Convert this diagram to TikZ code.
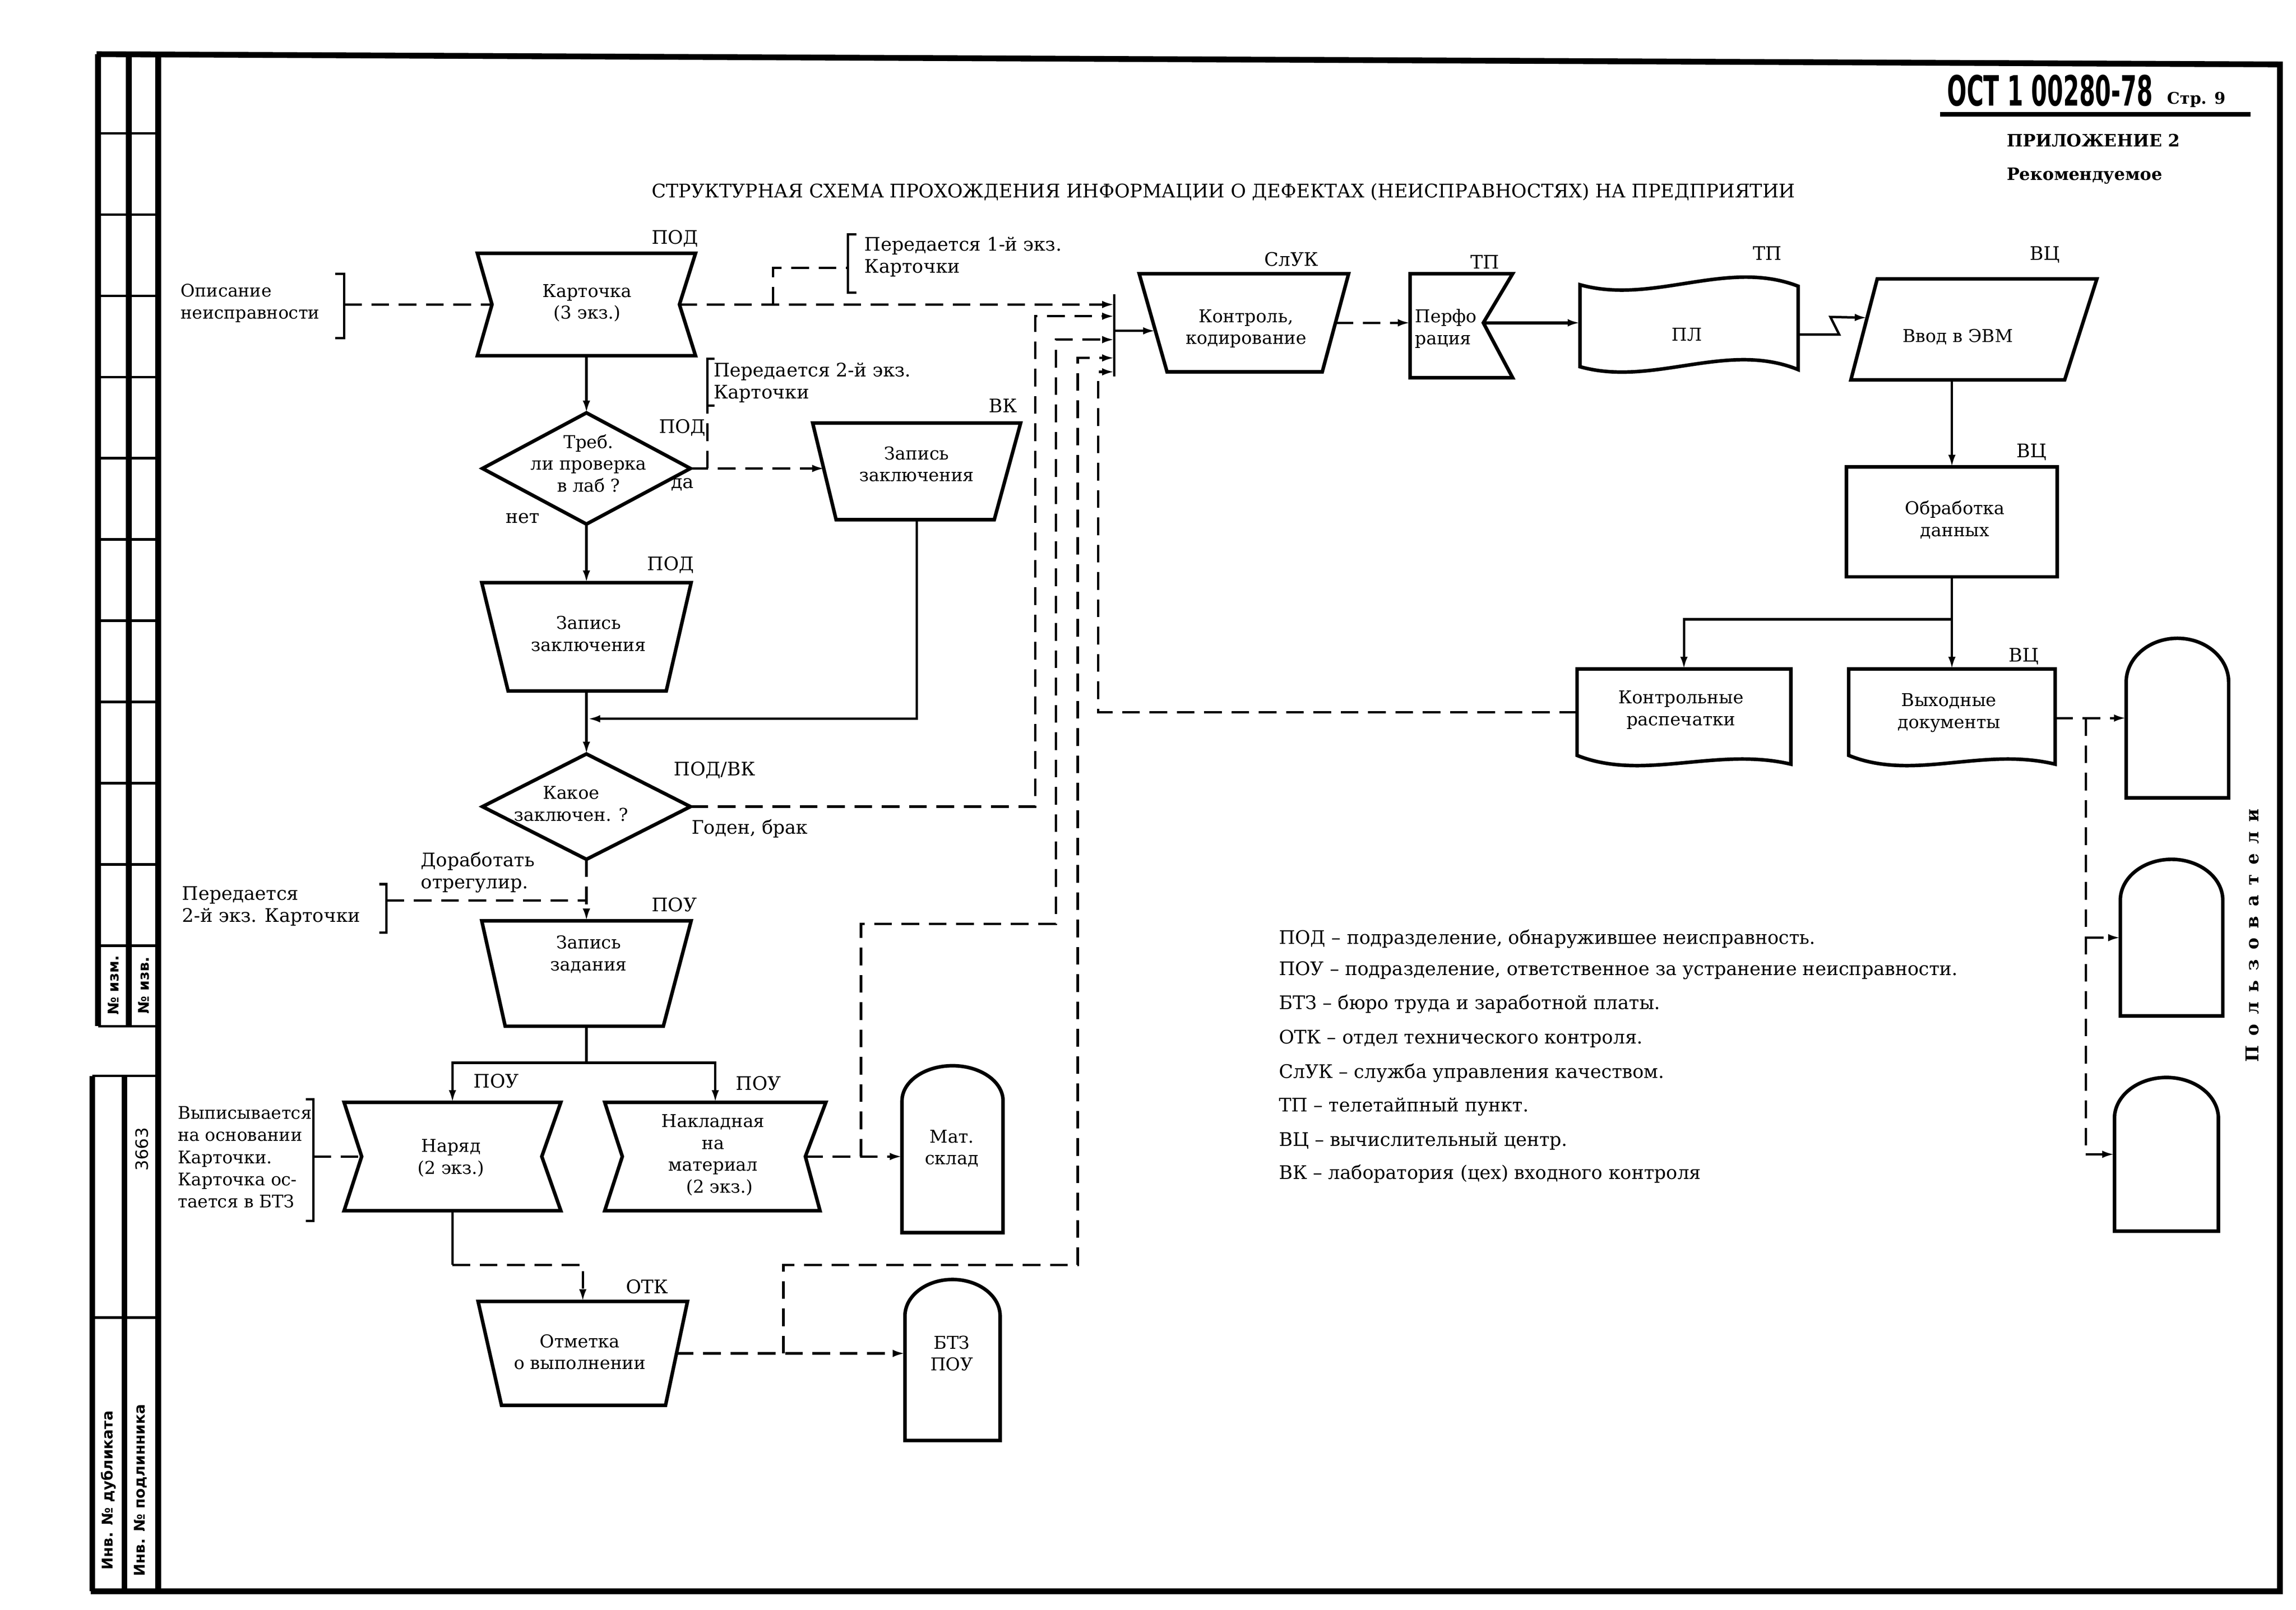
\documentclass[tikz,border=0pt]{standalone}
\usepackage{fontspec}
\setmainfont{DejaVu Serif}
\setsansfont{DejaVu Sans}
\usetikzlibrary{arrows.meta}
\usetikzlibrary{calc}
\usetikzlibrary{positioning}

\newcommand\txtf{\fontsize{5.5}{6.8}\selectfont}
\newcommand\annf{\fontsize{5.8}{6.9}\selectfont}
\newcommand\annsf{\fontsize{5.4}{6.9}\selectfont}
\newcommand\ttlf{\fontsize{5.82}{7}\selectfont}
\newcommand\hdrf{\bfseries\fontsize{5.3}{6}\selectfont}
\newcommand\sidef{\sffamily\bfseries\fontsize{4.6}{5}\selectfont}

\begin{document}
\begin{tikzpicture}[x=0.016cm, y=-0.016cm,
    shp/.style 2 args={inner sep=0pt, outer sep=0pt, minimum width=#1*0.016cm, minimum height=#2*0.016cm},
    txt/.style={inner sep=0pt, align=center, font=\txtf},
    lbl/.style={inner sep=0pt, font=\annf},
    note/.style={inner sep=0pt, align=left, anchor=west, font=\annf},
    box/.style={line width=1.1pt, line join=miter},
    con/.style={line width=0.75pt},
    dsh/.style={con, dash pattern=on 5.5pt off 3pt},
    frm/.style={line width=1.8pt},
    >={Latex[length=3.8pt,width=2.3pt]}]

    \useasboundingbox (0,0) rectangle (1568,1099.7);

    % frame and margin strip
    \draw[frm] (66,37) -- (1557,44) -- (1557,1087) -- (62,1087);
    \draw[frm] (108,37) -- (108,1087);
    \draw[frm] (67,37) -- (67,701);
    \draw[frm] (88,37) -- (88,701);
    \draw[frm] (63,735) -- (63,1087);
    \draw[frm] (85,735) -- (85,1087);
    \draw[con] (67,91) -- (108,91) (67,146.5) -- (108,146.5) (67,202) -- (108,202)
        (67,257.5) -- (108,257.5) (67,313) -- (108,313) (67,368.5) -- (108,368.5)
        (67,424) -- (108,424) (67,479.5) -- (108,479.5) (67,535) -- (108,535)
        (67,590.5) -- (108,590.5) (67,646) -- (108,646) (67,701) -- (108,701);
    \draw[con] (63,735) -- (108,735) (63,900) -- (108,900);
    \node[rotate=90, inner sep=0pt, font=\sidef] (izm) at (77.5,673) {№ изм.};
    \node[rotate=90, inner sep=0pt, font=\sidef] (izv) at (98,673) {№ изв.};
    \node[rotate=90, inner sep=0pt, font=\sffamily\fontsize{5.3}{6}\selectfont] (inv) at (97,785) {3663};
    \node[rotate=90, inner sep=0pt, font=\sidef] (dubl) at (74,1018) {Инв. № дубликата};
    \node[rotate=90, inner sep=0pt, font=\sidef] (podl) at (96,1018) {Инв. № подлинника};

    % header
    \node[inner sep=0pt, font=\sffamily\bfseries\fontsize{13}{13}\selectfont] (ost) at (1400,62) {\scalebox{0.55}[1]{ОСТ 1 00280-78}};
    \node[inner sep=0pt, font=\bfseries\fontsize{5}{5}\selectfont] (page) at (1500,68) {Стр. 9};
    \draw[line width=1.4pt] (1325,78) -- (1537,78);
    \node[inner sep=0pt, anchor=west, font=\hdrf] (pril) at (1370,96) {ПРИЛОЖЕНИЕ 2};
    \node[inner sep=0pt, anchor=west, font=\hdrf] (rek) at (1370,120) {Рекомендуемое};
    \node[inner sep=0pt, font=\ttlf] (title) at (835.5,131) {СТРУКТУРНАЯ СХЕМА ПРОХОЖДЕНИЯ ИНФОРМАЦИИ О ДЕФЕКТАХ (НЕИСПРАВНОСТЯХ) НА ПРЕДПРИЯТИИ};

    % blocks
    \node[shp={149}{70}] (kart) at (400.5,208) {};
    \node[shp={142}{76}] (treb) at (400.5,320) {};
    \node[shp={142}{66}] (zapvk) at (626,322) {};
    \node[shp={143}{74}] (zappod) at (400.5,435) {};
    \node[shp={142}{72}] (kak) at (400.5,551) {};
    \node[shp={143}{72}] (zadan) at (400.5,665) {};
    \node[shp={148}{74}] (naryad) at (309,790) {};
    \node[shp={151}{74}] (naklad) at (488.5,790) {};
    \node[shp={143}{71}] (otm) at (398,924.5) {};
    \node[shp={69}{114}] (sklad) at (650.5,785) {};
    \node[shp={65}{110}] (btz) at (650.5,929) {};
    \node[shp={143}{67}] (kontr) at (849.5,220.5) {};
    \node[shp={70}{71}] (perf) at (998,222.5) {};
    \node[shp={149}{56}] (pl) at (1153.5,222.5) {};
    \node[shp={168}{69}] (vvod) at (1348,225) {};
    \node[shp={144}{75}] (obr) at (1333,356.5) {};
    \node[shp={146}{59}] (kras) at (1150,486.5) {};
    \node[shp={141}{59}] (vyh) at (1333,486.5) {};
    \node[shp={70}{109}] (u1) at (1487,490.5) {};
    \node[shp={70}{107}] (u2) at (1483,640.5) {};
    \node[shp={71}{105}] (u3) at (1479.5,788.5) {};

    \draw[box] (kart.north west) -- (kart.north east) -- ($(kart.east)+(-11,0)$) -- (kart.south east) -- (kart.south west) -- ($(kart.west)+(10,0)$) -- cycle;
    \draw[box] (treb.north) -- (treb.east) -- (treb.south) -- (treb.west) -- cycle;
    \draw[box] (zapvk.north west) -- (zapvk.north east) -- ($(zapvk.south east)+(-18,0)$) -- ($(zapvk.south west)+(16,0)$) -- cycle;
    \draw[box] (zappod.north west) -- (zappod.north east) -- ($(zappod.south east)+(-17,0)$) -- ($(zappod.south west)+(18,0)$) -- cycle;
    \draw[box] (kak.north) -- (kak.east) -- (kak.south) -- (kak.west) -- cycle;
    \draw[box] (zadan.north west) -- (zadan.north east) -- ($(zadan.south east)+(-19,0)$) -- ($(zadan.south west)+(16,0)$) -- cycle;
    \draw[box] (naryad.north west) -- (naryad.north east) -- ($(naryad.east)+(-13,0)$) -- (naryad.south east) -- (naryad.south west) -- ($(naryad.west)+(12,0)$) -- cycle;
    \draw[box] (naklad.north west) -- (naklad.north east) -- ($(naklad.east)+(-14,0)$) -- ($(naklad.south east)+(-4,0)$) -- (naklad.south west) -- ($(naklad.west)+(12,0)$) -- cycle;
    \draw[box] (otm.north west) -- (otm.north east) -- ($(otm.south east)+(-15,0)$) -- ($(otm.south west)+(16,0)$) -- cycle;
    \draw[box] (kontr.north west) -- (kontr.north east) -- ($(kontr.south east)+(-18,0)$) -- ($(kontr.south west)+(19,0)$) -- cycle;
    \draw[box] (perf.north west) -- (perf.north east) -- ($(perf.east)+(-20,-2)$) -- (perf.south east) -- (perf.south west) -- cycle;
    \draw[box] (pl.north west) .. controls +(50,14) and +(-49,-19) .. ($(pl.north east)+(0,1)$)
        -- ($(pl.south east)+(0,2)$) .. controls +(-49,-20) and +(50,14) .. (pl.south west) -- cycle;
    \draw[box] ($(vvod.north west)+(18,0)$) -- (vvod.north east) -- ($(vvod.south east)+(-22,0)$) -- (vvod.south west) -- cycle;
    \draw[box] (obr.north west) rectangle (obr.south east);
    \draw[box] (kras.north west) -- (kras.north east) -- ($(kras.south east)+(0,6)$) .. controls +(-51,-12) and +(45,18) .. (kras.south west) -- cycle;
    \draw[box] (vyh.north west) -- (vyh.north east) -- ($(vyh.south east)+(0,6)$) .. controls +(-50,-12) and +(44,18) .. (vyh.south west) -- cycle;
    \draw[box] (sklad.south west) -- ($(sklad.north west)+(0,24)$) arc[start angle=180, end angle=0, x radius=34.5*0.016cm, y radius=24*0.016cm] -- (sklad.south east) -- cycle;
    \draw[box] (btz.south west) -- ($(btz.north west)+(0,25)$) arc[start angle=180, end angle=0, x radius=32.5*0.016cm, y radius=25*0.016cm] -- (btz.south east) -- cycle;
    \draw[box] (u1.south west) -- ($(u1.north west)+(0,30)$) arc[start angle=180, end angle=0, x radius=35*0.016cm, y radius=30*0.016cm] -- (u1.south east) -- cycle;
    \draw[box] (u2.south west) -- ($(u2.north west)+(0,28)$) arc[start angle=180, end angle=0, x radius=35*0.016cm, y radius=28*0.016cm] -- (u2.south east) -- cycle;
    \draw[box] (u3.south west) -- ($(u3.north west)+(0,28)$) arc[start angle=180, end angle=0, x radius=35.5*0.016cm, y radius=28*0.016cm] -- (u3.south east) -- cycle;

    % block texts
    \node[txt] (kart-t) at (401,207) {Карточка\\(3 экз.)};
    \node[txt] (treb-t) at (402,316.5) {Треб.\\ли проверка\\в лаб ?};
    \node[txt] (zapvk-t) at (626,317) {Запись\\заключения};
    \node[txt] (zappod-t) at (402,433) {Запись\\заключения};
    \node[txt] (kak-t) at (390,549) {Какое\\заключен. ?};
    \node[txt] (zadan-t) at (402,652) {Запись\\задания};
    \node[txt] (naryad-t) at (308,791) {Наряд\\(2 экз.)};
    \node[txt] (naklad-t) at (487,789) {Накладная\\на\\материал\\\hspace*{4pt}(2 экз.)};
    \node[txt] (otm-t) at (396,923.5) {Отметка\\о выполнении};
    \node[txt] (sklad-t) at (650,784.5) {Мат.\\склад};
    \node[txt] (btz-t) at (650,924.5) {БТЗ\\ПОУ};
    \node[txt] (kontr-t) at (851,224.5) {Контроль,\\кодирование};
    \node[txt, anchor=west, align=left] (perf-t) at (966,224.5) {Перфо\\рация};
    \node[txt] (pl-t) at (1152,228.6) {ПЛ};
    \node[txt] (vvod-t) at (1337,230) {Ввод в ЭВМ};
    \node[txt] (obr-t) at (1335,355) {Обработка\\данных};
    \node[txt] (kras-t) at (1148,485) {Контрольные\\распечатки};
    \node[txt] (vyh-t) at (1331,487) {Выходные\\документы};

    % unit labels
    \node[lbl] (lpod1) at (461,163) {ПОД};
    \node[lbl] (lpod2) at (466,292) {ПОД};
    \node[lbl] (lda) at (466,331) {да};
    \node[lbl] (lnet) at (357,354) {нет};
    \node[lbl] (lvk) at (685,277) {ВК};
    \node[lbl] (lpod3) at (458,386) {ПОД};
    \node[lbl] (lpodvk) at (488,526) {ПОД/ВК};
    \node[lbl] (lgod) at (512,566) {Годен, брак};
    \node[lbl] (lpou1) at (460.5,618) {ПОУ};
    \node[lbl] (lpou2) at (339,738.5) {ПОУ};
    \node[lbl] (lpou3) at (518,740) {ПОУ};
    \node[lbl] (lotk) at (442,879) {ОТК};
    \node[lbl] (lsluk) at (882,177) {СлУК};
    \node[lbl] (ltp1) at (1014,179) {ТП};
    \node[lbl] (ltp2) at (1207,173) {ТП};
    \node[lbl] (lvc1) at (1396.5,174) {ВЦ};
    \node[lbl] (lvc2) at (1387.5,309) {ВЦ};
    \node[lbl] (lvc3) at (1382,448.5) {ВЦ};
    \node[rotate=90, inner sep=0pt, font=\bfseries\fontsize{5.5}{6}\selectfont] (users) at (1538,639)
        {П\kern3pt о\kern3pt л\kern3pt ь\kern3pt з\kern3pt о\kern3pt в\kern3pt а\kern3pt т\kern3pt е\kern3pt л\kern3pt и};

    % notes
    \node[note, font=\annsf] (opis) at (123,207) {Описание\\неисправности};
    \node[note] (per1) at (590,175.5) {Передается 1-й экз.\\Карточки};
    \node[note] (per2) at (487,261.5) {Передается 2-й экз.\\Карточки};
    \node[note] (dorab) at (287,596) {Доработать\\отрегулир.};
    \node[note] (per3) at (124,619) {Передается\\2-й экз. Карточки};
    \node[note, font=\annsf] (vyp) at (121,790.5) {Выписывается\\на основании\\Карточки.\\Карточка ос-\\тается в БТЗ};

    % brackets and junctions
    \coordinate (br0) at (235,208);
    \coordinate (br1) at (579,183);
    \coordinate (br2) at (483,277);
    \coordinate (br3) at (264,615);
    \coordinate (br4) at (214,790);
    \draw[con] ($(br0)+(-6,-21)$) -- ++(6,0) -- ++(0,44) -- ++(-6,0);
    \draw[con] ($(br1)+(6,-23)$) -- ++(-6,0) -- ++(0,40) -- ++(6,0);
    \draw[con] ($(br2)+(5,-32)$) -- ++(-5,0) -- (br2) -- ++(5,0);
    \draw[con] ($(br3)+(-5,-11)$) -- ++(5,0) -- ++(0,33) -- ++(-5,0);
    \draw[con] ($(br4)+(-5,-39)$) -- ++(5,0) -- ++(0,83) -- ++(-5,0);

    \coordinate (bar-top) at (761,201);
    \coordinate (bar-bot) at (761,257);
    \coordinate (bar0) at (761,226);
    \coordinate (bar1) at (761,208);
    \coordinate (bar2) at (761,216);
    \coordinate (bar3) at (761,232);
    \coordinate (bar4) at (761,244.5);
    \coordinate (bar5) at (761,254);
    \coordinate (jn1) at (401.5,491);
    \coordinate (jn2) at ($(naklad.east)+(24,0)$);
    \coordinate (jn3) at ($(otm.east)+(65.5,0)$);
    \coordinate (jn4) at ($(obr.south)+(0,29)$);
    \coordinate (vyo) at ($(vyh.east)+(0,4)$);
    \coordinate (jn5) at ($(vyo)+(21,0)$);
    \coordinate (jn6) at ($(zadan.south)+(0,25)$);
    \coordinate (jn7) at ($(naryad.south)+(0,37)$);

    % connectors
    \draw[dsh] (br0) -- ($(kart.west)+(10,0)$);
    \draw[con,->] (kart.south) -- (treb.north);
    \draw[dsh,->] ($(kart.east)+(-11,0)$) -- (bar1);
    \draw[dsh] (528,208) |- (br1);
    \draw[dsh,->] (treb.east) -- ($(treb.east -| zapvk.west)+(8,0)$);
    \draw[dsh] ($(treb.east)+(11.5,0)$) -- (br2);
    \draw[con,->] (treb.south) -- (zappod.north);
    \draw[con,->] (zapvk.south) |- (jn1);
    \draw[con,->] (zappod.south) -- (kak.north);
    \draw[dsh,->] (kak.south) -- (zadan.north);
    \draw[dsh] (br3) -- (br3 -| kak.south);
    \draw[dsh,->] (kak.east) -| (707,216) -- (bar2);
    \draw[con] (bar-top) -- (bar-bot);
    \draw[con,->] (bar0) -- ($(bar0 -| kontr.west)+(11,0)$);
    \draw[dsh,->] ($(kontr.east)+(-9,0)$) -- (kontr.east -| perf.west);
    \draw[con,->, line width=1pt] ($(perf.east)+(-20,-2)$) -- ($(pl.west)+(0,-2)$);
    \draw[con,->] ($(pl.east)+(0,6)$) -- ++(28,0) -- ++(-6,-12) -- ($(vvod.west)+(11,-8)$);
    \draw[con,->] (obr.north |- vvod.south) -- (obr.north);
    \draw[con] (obr.south) -- (jn4);
    \draw[con,->] (jn4) -| (kras.north);
    \draw[con,->] (jn4) -- (vyh.north);
    \draw[dsh,->] (kras.west) -| (750,254) -- (bar5);
    \draw[dsh,->] (vyo) -- (vyo -| u1.west);
    \draw[dsh] (jn5) -- (jn5 |- u3.west);
    \draw[dsh,->] (jn5 |- u2.west) -- (u2.west);
    \draw[dsh,->] (jn5 |- u3.west) -- (u3.west);
    \draw[con] (zadan.south) -- (jn6);
    \draw[con,->] (jn6) -| (naryad.north);
    \draw[con,->] (jn6) -| (naklad.north);
    \draw[dsh] (br4) -- ($(naryad.west)+(12,0)$);
    \draw[dsh,->] ($(naklad.east)+(-14,0)$) -- (naklad.east -| sklad.west);
    \draw[dsh,->] (jn2) |- (721,631) |- (bar3);
    \draw[con] (naryad.south) -- (jn7);
    \draw[dsh,->] (jn7) -| (otm.north);
    \draw[dsh,->] ($(otm.east)+(-8,0)$) -- (otm.east -| btz.west);
    \draw[dsh,->] (jn3) |- (736,864) |- (bar4);

    % legend
    \node[note] (leg1) at (873,641.5) {ПОД – подразделение, обнаружившее неисправность.};
    \node[note] (leg2) at (873,663) {ПОУ – подразделение, ответственное за устранение неисправности.};
    \node[note] (leg3) at (873,686) {БТЗ – бюро труда и заработной платы.};
    \node[note] (leg4) at (873,709.5) {ОТК – отдел технического контроля.};
    \node[note] (leg5) at (873,733) {СлУК – служба управления качеством.};
    \node[note] (leg6) at (873,756) {ТП – телетайпный пункт.};
    \node[note] (leg7) at (873,779.5) {ВЦ – вычислительный центр.};
    \node[note] (leg8) at (873,802) {ВК – лаборатория (цех) входного контроля};
\end{tikzpicture}
\end{document}
